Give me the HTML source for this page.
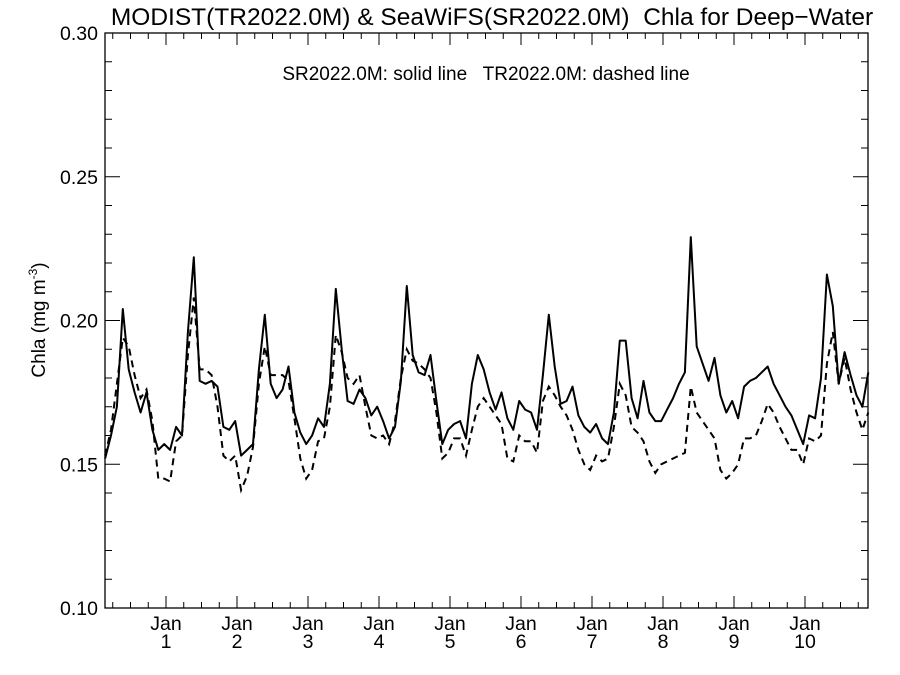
<!DOCTYPE html>
<html><head><meta charset="utf-8"><style>
html,body{margin:0;padding:0;background:#fff;}
svg{display:block;font-family:"Liberation Sans",Arial,sans-serif;}
</style></head><body>
<svg id="chart" width="900" height="675" viewBox="0 0 900 675">
<rect x="0" y="0" width="900" height="675" fill="#fff"/>
<text x="492" y="25" font-size="24.5" text-anchor="middle" fill="#000" xml:space="preserve">MODIST(TR2022.0M) &amp; SeaWiFS(SR2022.0M)  Chla for Deep−Water</text>
<text x="486" y="80" font-size="19" text-anchor="middle" fill="#000" xml:space="preserve">SR2022.0M: solid line   TR2022.0M: dashed line</text>
<text transform="translate(45,320) rotate(-90)" font-size="19" text-anchor="middle" fill="#000">Chla (mg m<tspan dy="-8" font-size="12">-3</tspan><tspan dy="8">)</tspan></text>
<g id="axes"></g>
<g id="series"></g>
</svg>
<script>
const yTickValues = [0.10, 0.15, 0.20, 0.25, 0.30];
const yTickLabels = ["0.10", "0.15", "0.20", "0.25", "0.30"];
const xYears = [1,2,3,4,5,6,7,8,9,10];
const xTickLabels = ["1","2","3","4","5","6","7","8","9","10"];
const startYear = 0.1417;
const solidSR = [0.152,0.160,0.170,0.204,0.183,0.175,0.168,0.175,0.162,0.155,0.157,0.155,0.163,0.160,0.196,0.222,0.179,0.178,0.179,0.177,0.163,0.162,0.165,0.153,0.155,0.157,0.183,0.202,0.178,0.173,0.176,0.184,0.168,0.161,0.157,0.160,0.166,0.163,0.178,0.211,0.190,0.172,0.171,0.176,0.173,0.167,0.170,0.165,0.159,0.163,0.179,0.212,0.188,0.182,0.181,0.188,0.172,0.157,0.162,0.164,0.165,0.159,0.178,0.188,0.183,0.175,0.169,0.175,0.166,0.162,0.172,0.169,0.168,0.162,0.181,0.202,0.184,0.171,0.172,0.177,0.167,0.163,0.161,0.164,0.159,0.157,0.168,0.193,0.193,0.173,0.166,0.179,0.168,0.165,0.165,0.169,0.173,0.178,0.182,0.229,0.191,0.185,0.179,0.187,0.174,0.168,0.172,0.166,0.177,0.179,0.180,0.182,0.184,0.178,0.174,0.170,0.167,0.162,0.157,0.167,0.166,0.180,0.216,0.205,0.178,0.189,0.181,0.174,0.170,0.182];
const dashedTR = [0.153,0.162,0.178,0.194,0.191,0.181,0.173,0.176,0.165,0.145,0.145,0.144,0.158,0.160,0.188,0.208,0.183,0.183,0.181,0.170,0.153,0.151,0.153,0.141,0.146,0.156,0.178,0.191,0.181,0.181,0.181,0.179,0.166,0.152,0.145,0.148,0.158,0.159,0.170,0.195,0.189,0.180,0.178,0.181,0.170,0.160,0.159,0.160,0.157,0.165,0.180,0.190,0.186,0.185,0.183,0.180,0.168,0.152,0.154,0.159,0.159,0.153,0.162,0.170,0.173,0.170,0.167,0.164,0.152,0.151,0.160,0.158,0.158,0.154,0.172,0.177,0.174,0.170,0.167,0.162,0.155,0.150,0.148,0.153,0.151,0.152,0.163,0.178,0.174,0.163,0.161,0.158,0.151,0.147,0.150,0.151,0.152,0.153,0.154,0.177,0.168,0.165,0.162,0.159,0.148,0.145,0.147,0.150,0.159,0.159,0.160,0.165,0.171,0.168,0.163,0.159,0.155,0.155,0.150,0.159,0.158,0.160,0.185,0.196,0.178,0.187,0.176,0.168,0.162,0.168];

const NS = "http://www.w3.org/2000/svg";
const L = 105, R = 868, T = 33, B = 608;
const yMin = 0.10, yMax = 0.30;
const tMin = 1 - 61/71, tMax = 10 + 63/71;
function yScale(v){ return B - (v - yMin) / (yMax - yMin) * (B - T); }
function xScale(t){ return L + (t - tMin) / (tMax - tMin) * (R - L); }
function mk(tag, attrs, parent){ const e = document.createElementNS(NS, tag); for (const k in attrs) e.setAttribute(k, attrs[k]); parent.appendChild(e); return e; }

const axes = document.getElementById('axes');
const frame = mk('rect', {x:L, y:T, width:R-L, height:B-T, fill:'none', stroke:'#000', 'stroke-width':1.3}, axes);



for (let k = 0; k <= 20; k++) {
  const v = yMin + k * 0.01;
  const y = yScale(v);
  const major = (k % 5 === 0);
  const len = major ? 15 : 7;
  const t1 = mk('line', {x1:L, y1:y, x2:L+len, y2:y, stroke:'#000', 'stroke-width':1}, axes);
  
  
  const t2 = mk('line', {x1:R, y1:y, x2:R-len, y2:y, stroke:'#000', 'stroke-width':1}, axes);
  
  
}
yTickValues.forEach((v, i) => {
  const tx = mk('text', {x:98, y:yScale(v)+7, 'font-size':19.5, 'text-anchor':'end', fill:'#000'}, axes);
  tx.textContent = yTickLabels[i];
  
  
});

for (let q = Math.ceil(tMin*4); q <= Math.floor(tMax*4); q++) {
  const t = q / 4;
  const x = xScale(t);
  const major = (q % 4 === 0);
  const len = major ? 12 : 6;
  const b = mk('line', {x1:x, y1:B, x2:x, y2:B-len, stroke:'#000', 'stroke-width':1}, axes);
  
  
  const tp = mk('line', {x1:x, y1:T, x2:x, y2:T+len, stroke:'#000', 'stroke-width':1}, axes);
  
  
}
xYears.forEach((yr, i) => {
  const x = xScale(yr);
  const a = mk('text', {x:x, y:630, 'font-size':19.5, 'text-anchor':'middle', fill:'#000'}, axes);
  a.textContent = 'Jan';
  
  
  const b = mk('text', {x:x, y:648, 'font-size':19.5, 'text-anchor':'middle', fill:'#000'}, axes);
  b.textContent = xTickLabels[i];
  
  
});

const series = document.getElementById('series');
function pts(arr){ return arr.map((v, i) => xScale(startYear + i/12).toFixed(1) + ',' + yScale(v).toFixed(1)).join(' '); }
const sl = mk('polyline', {points:pts(solidSR), fill:'none', stroke:'#000', 'stroke-width':2, 'stroke-linejoin':'round'}, series);


const dl = mk('polyline', {points:pts(dashedTR), fill:'none', stroke:'#000', 'stroke-width':2, 'stroke-dasharray':'7,5'}, series);


</script>
</body></html>
